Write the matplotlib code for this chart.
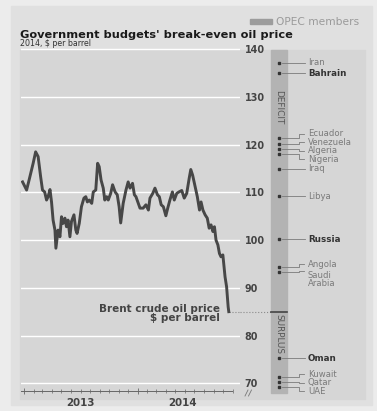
import matplotlib
matplotlib.use("Agg")
import matplotlib.pyplot as plt
import matplotlib.dates as mdates
import matplotlib.ticker as ticker
from matplotlib.patches import Rectangle
import pandas as pd

# Brent crude, $ per barrel
brent_dates = [
    "2012-12-27", "2013-01-09", "2013-01-17", "2013-01-30", "2013-02-07", "2013-02-15",
    "2013-02-23", "2013-03-01", "2013-03-08", "2013-03-14", "2013-03-19", "2013-03-25",
    "2013-03-30", "2013-04-04", "2013-04-10", "2013-04-13", "2013-04-20", "2013-04-26",
    "2013-05-01", "2013-05-06", "2013-05-12", "2013-05-17", "2013-05-22", "2013-05-28",
    "2013-06-02", "2013-06-10", "2013-06-16", "2013-06-20", "2013-06-27", "2013-07-04",
    "2013-07-12", "2013-07-18", "2013-07-23", "2013-07-29", "2013-08-06", "2013-08-11",
    "2013-08-19", "2013-08-25", "2013-08-30", "2013-09-05", "2013-09-12", "2013-09-17",
    "2013-09-23", "2013-09-28", "2013-10-06", "2013-10-12", "2013-10-20", "2013-10-27",
    "2013-11-02", "2013-11-07", "2013-11-15", "2013-11-24", "2013-12-01", "2013-12-07",
    "2013-12-15", "2013-12-21", "2013-12-26", "2014-01-08", "2014-01-18", "2014-01-27",
    "2014-02-04", "2014-02-09", "2014-02-18", "2014-02-25", "2014-03-05", "2014-03-11",
    "2014-03-17", "2014-03-24", "2014-04-01", "2014-04-07", "2014-04-14", "2014-04-22",
    "2014-04-28", "2014-05-06", "2014-05-13", "2014-05-22", "2014-05-30", "2014-06-07",
    "2014-06-15", "2014-06-20", "2014-06-26", "2014-07-04", "2014-07-11", "2014-07-18",
    "2014-07-23", "2014-07-29", "2014-08-05", "2014-08-12", "2014-08-18", "2014-08-24",
    "2014-08-30", "2014-09-04", "2014-09-09", "2014-09-15", "2014-09-20", "2014-09-25",
    "2014-10-01", "2014-10-08", "2014-10-13", "2014-10-18", "2014-10-20",
]
brent_prices = [
    112.2, 110.5, 112.6, 116.1, 118.5, 117.5,
    113.3, 110.5, 110.1, 108.4, 109.1, 110.6,
    108.0, 104.2, 102.1, 98.3, 102.1, 100.7,
    104.9, 103.5, 104.6, 102.8, 104.2, 100.7,
    103.9, 105.3, 102.1, 101.4, 103.5, 107.0,
    108.8, 109.1, 108.0, 108.4, 107.7, 110.1,
    110.5, 116.1, 115.4, 112.6, 110.9, 108.4,
    109.1, 108.4, 109.8, 111.6, 110.1, 109.5,
    107.0, 103.6, 107.7, 110.5, 112.2, 110.9,
    111.9, 109.5, 109.1, 106.7, 106.7, 107.4,
    106.3, 108.8, 109.8, 110.9, 109.5, 109.1,
    107.4, 107.0, 105.1, 106.7, 108.4, 110.1,
    108.4, 109.8, 110.1, 110.4, 108.8, 109.8,
    113.0, 114.8, 113.6, 111.2, 109.1, 106.3,
    108.0, 106.3, 105.3, 104.6, 102.5, 103.2,
    101.8, 102.8, 100.0, 99.0, 97.2, 96.5,
    96.9, 92.3, 90.2, 86.0, 85.0,
]

# 2014 budget break-even oil price, $ per barrel
countries = ["Iran", "Bahrain", "Ecuador", "Venezuela", "Algeria", "Nigeria", "Iraq",
             "Libya", "Russia", "Angola", "Saudi\nArabia", "Oman", "Kuwait", "Qatar", "UAE"]
breakeven = [137.2, 135.0, 121.3, 120.2, 119.2, 118.1, 115.0,
             109.2, 100.2, 94.3, 93.3, 75.2, 71.4, 70.3, 69.3]
opec = [True, False, True, True, True, True, True,
        True, False, True, True, False, True, True, True]

y_ticks = [70, 80, 90, 100, 110, 120, 130, 140]
year_labels = ["2013", "2014"]

# label heights where names would otherwise collide
label_nudge = {"Ecuador": 122.3, "Venezuela": 120.5, "Algeria": 118.7, "Nigeria": 116.9,
               "Angola": 94.9, "Saudi\nArabia": 93.6,
               "Kuwait": 71.9, "Qatar": 70.1, "UAE": 68.3}

W, H = 377, 411


def fx(x):
    return x / W


def fy(y):
    return 1 - y / H


def box(x0, y0, x1, y1):
    return [fx(x0), fy(y1), (x1 - x0) / W, (y1 - y0) / H]


def fig_rect(fig, x0, y0, x1, y1, color):
    fig.patches.append(Rectangle((fx(x0), fy(y1)), (x1 - x0) / W, (y1 - y0) / H,
                                 transform=fig.transFigure, color=color, zorder=-5))


plt.rcParams['font.family'] = 'DejaVu Sans'

fig = plt.figure(figsize=(W / 100, H / 100), dpi=100, facecolor='#ececec')
fig_rect(fig, 11, 6, 372, 405, '#e0e0e0')
fig_rect(fig, 20, 50, 365, 399, '#d6d6d6')

ylim = (68.37, 140.27)
x_start = pd.Timestamp("2012-12-22")
x_end = pd.Timestamp("2014-11-25")

# price chart
ax = fig.add_axes(box(21, 48, 240, 391))
ax.set_zorder(2)
ax.set_facecolor('none')
dates = pd.to_datetime(brent_dates)
ax.plot(dates, brent_prices, color='#474747', lw=2.1, solid_joinstyle='round', zorder=3)
ax.set_xlim(x_start, x_end)
ax.set_ylim(*ylim)

for s in ['top', 'left', 'right']:
    ax.spines[s].set_visible(False)
ax.spines['bottom'].set_color('#666666')
ax.spines['bottom'].set_linewidth(0.7)
ax.spines['bottom'].set_bounds(mdates.date2num(x_start), mdates.date2num(pd.Timestamp("2014-10-31")))

ax.xaxis.set_major_locator(mdates.YearLocator())
ax.xaxis.set_minor_locator(mdates.MonthLocator())
ax.xaxis.set_major_formatter(ticker.NullFormatter())
ax.tick_params(axis='x', which='major', direction='inout', length=5, width=0.6, color='#666666')
ax.tick_params(axis='x', which='minor', direction='inout', length=2.5, width=0.5, color='#666666')

ax.set_yticks(y_ticks)
ax.yaxis.tick_right()
ax.tick_params(axis='y', length=0, pad=3.5, labelsize=6.9, labelcolor='#444444')
for lab in ax.get_yticklabels():
    lab.set_fontweight('bold')
ax.grid(axis='y', color='white', lw=1.0)
ax.set_axisbelow(True)

xt = ax.get_xaxis_transform()
ax.text(mdates.date2num(pd.Timestamp("2013-07-02")), -0.035, year_labels[0], transform=xt,
        ha='center', va='center', fontsize=7.4, fontweight='bold', color='#444444')
ax.text(mdates.date2num(pd.Timestamp("2014-05-26")), -0.035, year_labels[1], transform=xt,
        ha='center', va='center', fontsize=7.4, fontweight='bold', color='#444444')

# dotted guide from the latest price across to the bar
ax.plot([dates[-1], x_end], [brent_prices[-1]] * 2, ls=':', color='#8a8a8a', lw=0.8,
        clip_on=False, zorder=2)

# break-even panel, x in pixels
ax2 = fig.add_axes(box(240, 48, 372, 391))
ax2.set_zorder(2)
ax2.set_xlim(240, 372)
ax2.set_ylim(*ylim)
ax2.axis('off')

ax2.add_patch(Rectangle((271, 68.0), 16, 139.85 - 68.0, color='#b3b3b3', clip_on=False, zorder=1))
ax2.plot([240, 271], [brent_prices[-1]] * 2, ls=':', color='#8a8a8a', lw=0.8, zorder=2)
ax2.plot([271, 287], [brent_prices[-1]] * 2, color='#444444', lw=1.2, zorder=3)
ax2.text(279, 127.8, 'DEFICIT', rotation=-90, ha='center', va='center', fontsize=6.4, color='#555555')
ax2.text(279, 80.3, 'SURPLUS', rotation=-90, ha='center', va='center', fontsize=6.4, color='#555555')

ax2.plot([278.7] * len(breakeven), breakeven, 's', ms=1.6, color='#333333', zorder=4, clip_on=False)

for name, val, member in zip(countries, breakeven, opec):
    ly = label_nudge.get(name, val)
    if ly == val:
        ax2.plot([282, 305], [val, val], color='#7a7a7a', lw=0.6, clip_on=False)
    else:
        ax2.plot([282, 299, 299, 304], [val, val, ly, ly], color='#7a7a7a', lw=0.6, clip_on=False)
    if member:
        ax2.text(308, ly, name, ha='left', va='top' if '\n' in name else 'center',
                 fontsize=6.1, color='#7a7a7a', linespacing=0.85, clip_on=False)
    else:
        ax2.text(308, ly, name, ha='left', va='center', fontsize=6.3, color='#333333',
                 fontweight='bold', clip_on=False)

# axis break mark beside the bottom label
for x0 in (245, 248.5):
    fig.lines.append(plt.Line2D([fx(x0), fx(x0 + 3)], [fy(396), fy(390)],
                                transform=fig.transFigure, color='#777777', lw=0.6))

# titles and legend
fig.text(fx(20), fy(35), "Government budgets' break-even oil price", fontsize=8.2,
         fontweight='bold', color='#1a1a1a', va='center', ha='left')
fig.text(fx(20), fy(43.5), "2014, $ per barrel", fontsize=5.7, color='#333333',
         va='center', ha='left')
fig_rect(fig, 250, 19, 272, 24.5, '#9c9c9c')
fig.text(fx(276), fy(22), "OPEC members", fontsize=7.7, color='#9a9a9a', va='center', ha='left')

fig.text(fx(220), fy(308.5), "Brent crude oil price", fontsize=7.5, fontweight='bold',
         color='#444444', va='center', ha='right', zorder=5)
fig.text(fx(220), fy(318), "$ per barrel", fontsize=7.5, fontweight='bold',
         color='#444444', va='center', ha='right', zorder=5)

fig.savefig("out.png", dpi=100, facecolor=fig.get_facecolor())
